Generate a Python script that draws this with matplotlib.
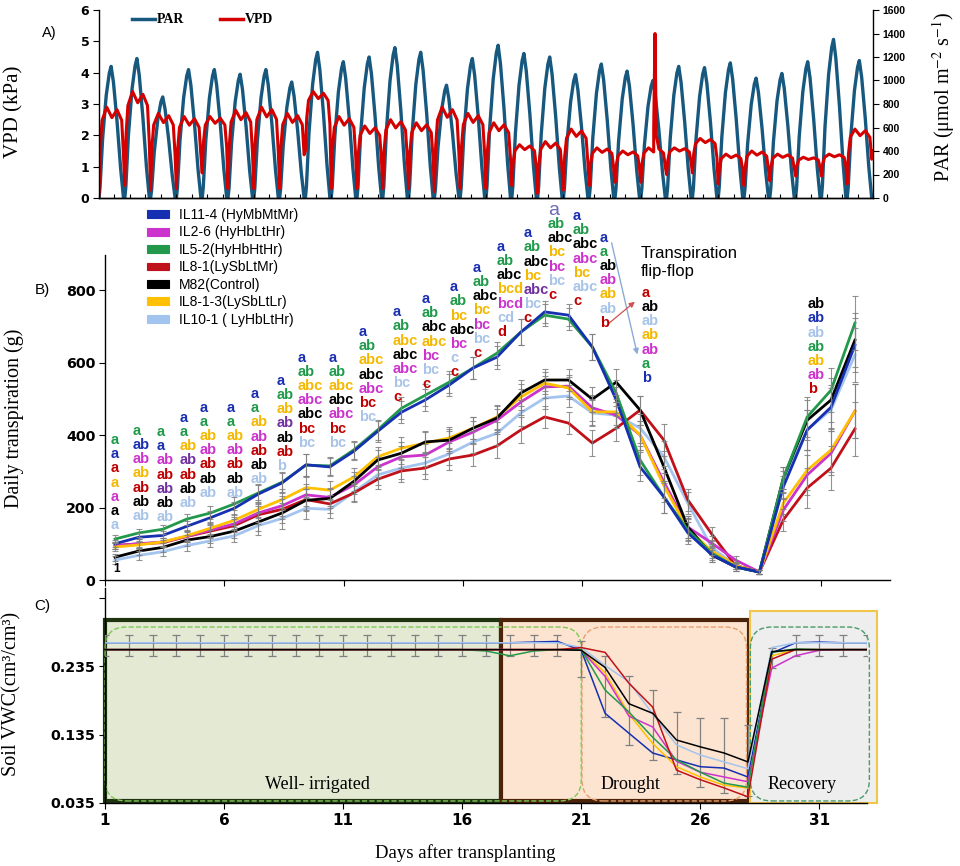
import numpy as np
import matplotlib
matplotlib.use('Agg')
import matplotlib.pyplot as plt
from matplotlib.patches import Rectangle, FancyBboxPatch, Patch
from matplotlib.lines import Line2D

# ------------------------------------------------------------
# fonts / colours
# ------------------------------------------------------------
SERIF = 'Liberation Serif'
SANS = 'Liberation Sans'
TICK_FONT = 'DejaVu Sans'

plt.rcParams.update({
    'font.family': SANS,
    'mathtext.fontset': 'stix',
    'axes.linewidth': 1.0,
})

PAR_COLOR = '#17587f'
VPD_COLOR = '#d40000'
ERR_COLOR = '#808080'

LINE_COLORS = {
    'IL11-4': '#1530b0',
    'IL2-6': '#cc33cc',
    'IL5-2': '#22994a',
    'IL8-1': '#c0101a',
    'M82': '#000000',
    'IL8-1-3': '#ffc000',
    'IL10-1': '#a3c4ee',
}
LETTER_COLORS = {
    'b': '#1a2fb0', 'g': '#1f9a4a', 'r': '#c00000', 'y': '#f5b800',
    'm': '#cc33cc', 'k': '#000000', 'l': '#a8c4e8', 'p': '#7030a0',
    'A': '#6b6bb8',
}

# ------------------------------------------------------------
# panel A : PAR and VPD, 30 days
# ------------------------------------------------------------
A_DAYS = list(range(30))
PAR_PEAK = [1120, 1187, 860, 1093, 1093, 1053, 1093, 987, 1240, 1160,
            1200, 1280, 1240, 960, 1187, 1300, 1230, 1200, 1050, 1140,
            1080, 1000, 1120, 1110, 1150, 1020, 1060, 1160, 1350, 1170]
PAR_FRAC = [0.0, 0.04, 0.14, 0.28, 0.40, 0.47, 0.56, 0.70, 0.84, 0.95]
PAR_REL = [0.0, 0.08, 0.45, 0.78, 0.95, 1.00, 0.88, 0.58, 0.22, 0.0]

VPD_NIGHT = [0.1, 0.4, 0.25, 0.3, 0.8, 0.3, 0.3, 0.3, 1.5, 0.3,
             0.3, 0.3, 0.3, 0.2, 0.3, 0.3, 0.4, 0.15, 0.25, 0.4,
             0.5, 0.5, 0.75, 0.8, 0.45, 0.4, 0.55, 0.7, 0.7, 0.45]
VPD_DAY = [2.9, 3.4, 2.7, 2.6, 2.6, 2.8, 2.9, 2.7, 3.4, 2.6,
           2.3, 2.5, 2.4, 2.9, 2.7, 2.4, 1.7, 1.8, 2.2, 1.6,
           1.5, 1.6, 1.6, 1.9, 1.4, 1.5, 1.4, 1.3, 1.4, 2.2]
VPD_FRAC = [0.0, 0.05, 0.12, 0.30, 0.50, 0.70, 0.88, 0.95]
VPD_REL = [0.0, 0.55, 0.85, 1.00, 0.88, 0.97, 0.85, 0.45]
VPD_END = 1.5
VPD_SPIKE_T = [21.50, 21.55, 21.60]
VPD_SPIKE_V = [2.2, 5.25, 2.0]

# ------------------------------------------------------------
# panel B : daily transpiration (g)
# ------------------------------------------------------------
TRANSP_DAY = list(range(1, 33))
TRANSP = {
    'IL10-1': [55, 68, 78, 95, 108, 122, 150, 170, 198, 195, 242, 290, 309, 323, 348, 381,
               405, 461, 502, 508, 461, 455, 419, 340, 212, 90, 40, 22, 270, 414, 470, 621],
    'IL8-1': [95, 100, 103, 120, 135, 150, 180, 195, 222, 210, 240, 278, 301, 309, 334, 345,
              370, 414, 450, 433, 378, 419, 469, 386, 221, 127, 40, 22, 166, 254, 309, 417],
    'IL2-6': [95, 100, 105, 120, 138, 155, 185, 205, 235, 228, 262, 312, 340, 345, 381, 408,
              441, 491, 533, 535, 475, 455, 400, 270, 146, 102, 55, 22, 193, 290, 350, 466],
    'IL8-1-3': [91, 97, 105, 122, 143, 165, 195, 222, 255, 248, 284, 340, 364, 378, 392, 419,
                450, 505, 543, 530, 464, 464, 400, 260, 140, 80, 40, 22, 212, 303, 359, 466],
    'M82': [63, 80, 90, 110, 120, 135, 160, 185, 220, 225, 272, 331, 350, 381, 386, 419,
            447, 516, 552, 552, 499, 546, 469, 312, 146, 69, 36, 22, 281, 441, 497, 662],
    'IL5-2': [113, 130, 140, 168, 185, 210, 240, 270, 317, 315, 359, 414, 474, 510, 546, 585,
              626, 684, 731, 720, 643, 516, 331, 229, 138, 74, 36, 22, 281, 450, 524, 709],
    'IL11-4': [100, 118, 123, 148, 172, 198, 237, 268, 318, 312, 355, 410, 463, 497, 538, 585,
               615, 684, 740, 731, 643, 497, 312, 229, 130, 70, 36, 22, 257, 414, 477, 648],
}
TRANSP_SE = [10, 12, 12, 15, 18, 18, 25, 28, 30, 25, 25, 28, 30, 30, 30, 30,
             32, 35, 30, 30, 35, 35, 40, 45, 30, 20, 10, 5, 30, 55, 60, 75]

LEGEND_ORDER = ['IL11-4', 'IL2-6', 'IL5-2', 'IL8-1', 'M82', 'IL8-1-3', 'IL10-1']
LEGEND_LABELS = ['IL11-4 (HyMbMtMr)', 'IL2-6 (HyHbLtHr)', 'IL5-2(HyHbHtHr)',
                 'IL8-1(LySbLtMr)', 'M82(Control)', 'IL8-1-3(LySbLtLr)',
                 'IL10-1 ( LyHbLtHr)']

# significance letters: column left edge (day), top row value (g), entries
LETTER_X = [1.25, 2.17, 3.18, 4.14, 4.98, 6.11, 7.12, 8.21, 9.09, 10.38, 11.64,
            13.07, 14.28, 15.45, 16.42, 17.42, 18.55, 19.56, 20.61, 21.74, 23.50, 30.45]
LETTER_TOP = [386, 411, 408, 447, 475, 475, 513, 549, 613, 613, 684,
              739, 775, 808, 861, 919, 957, 1021, 1004, 944, 792, 761]
LETTERS = [
    'a:g a:b a:r a:y a:m a:k a:l',
    'a:g ab:b ab:m ab:y ab:r ab:k ab:l',
    'a:g a:b ab:m ab:r ab:p ab:k ab:l',
    'a:b a:g ab:y ab:p ab:r ab:k ab:l',
    'a:b a:g ab:y ab:m ab:r ab:k ab:l',
    'a:b a:g ab:y ab:m ab:r ab:k ab:l',
    'a:b a:g ab:y ab:m ab:r ab:k ab:l',
    'a:b ab:g ab:y ab:p ab:k ab:r b:l',
    'a:b ab:g abc:y abc:m abc:k bc:r bc:l',
    'a:b ab:g abc:y abc:k abc:m bc:r bc:l',
    'a:b ab:g abc:y abc:k abc:m bc:r bc:l',
    'a:b ab:g abc:y abc:k abc:m bc:l c:r',
    'a:b ab:g abc:k abc:y bc:m bc:l c:r',
    'a:b ab:g bc:y abc:k bc:m c:l c:r',
    'a:b ab:g abc:k bc:y bc:m bc:l c:r',
    'a:b ab:g abc:k bcd:y bcd:m cd:l d:r',
    'a:b ab:g abc:k bc:y abc:p bc:l c:r',
    'a:A ab:g abc:k bc:y bc:m bc:l c:r',
    'a:b ab:g abc:k abc:m bc:y abc:l c:r',
    'a:b a:g ab:k ab:m ab:y ab:l b:r',
    'a:r ab:k ab:l ab:y ab:m a:g b:b',
    'ab:k ab:b ab:l ab:g ab:y ab:m b:r',
]
LETTER_STEP = 39

# ------------------------------------------------------------
# panel C : soil VWC (cm3/cm3), days 1-33
# ------------------------------------------------------------
VWC_DAY = list(range(1, 34))
VWC = {
    'IL11-4': [0.269, 0.269, 0.269, 0.269, 0.269, 0.269, 0.269, 0.269, 0.269, 0.269, 0.269,
               0.269, 0.269, 0.269, 0.269, 0.269, 0.269, 0.269, 0.270, 0.271, 0.258, 0.166,
               0.137, 0.108, 0.098, 0.088, 0.086, 0.073, 0.254, 0.269, 0.270, 0.269, 0.269],
    'IL10-1': [0.269, 0.269, 0.269, 0.269, 0.269, 0.269, 0.269, 0.269, 0.269, 0.269, 0.269,
               0.269, 0.269, 0.269, 0.269, 0.269, 0.269, 0.269, 0.269, 0.269, 0.262, 0.236,
               0.212, 0.165, 0.120, 0.105, 0.095, 0.085, 0.262, 0.269, 0.269, 0.269, 0.269],
    'IL8-1-3': [0.259, 0.259, 0.259, 0.259, 0.259, 0.259, 0.259, 0.259, 0.259, 0.259, 0.259,
                0.259, 0.259, 0.259, 0.259, 0.259, 0.259, 0.259, 0.259, 0.259, 0.259, 0.225,
                0.165, 0.122, 0.088, 0.073, 0.061, 0.057, 0.250, 0.259, 0.259, 0.259, 0.259],
    'IL2-6': [0.259, 0.259, 0.259, 0.259, 0.259, 0.259, 0.259, 0.259, 0.259, 0.259, 0.259,
              0.259, 0.259, 0.259, 0.259, 0.259, 0.259, 0.259, 0.259, 0.259, 0.258, 0.220,
              0.162, 0.146, 0.096, 0.080, 0.073, 0.066, 0.232, 0.250, 0.258, 0.259, 0.259],
    'IL5-2': [0.259, 0.259, 0.259, 0.259, 0.259, 0.259, 0.259, 0.259, 0.259, 0.259, 0.259,
              0.259, 0.259, 0.259, 0.259, 0.259, 0.257, 0.250, 0.257, 0.259, 0.259, 0.200,
              0.168, 0.131, 0.098, 0.080, 0.064, 0.058, 0.255, 0.260, 0.259, 0.259, 0.259],
    'IL8-1': [0.259, 0.259, 0.259, 0.259, 0.259, 0.259, 0.259, 0.259, 0.259, 0.259, 0.259,
              0.259, 0.259, 0.259, 0.259, 0.259, 0.259, 0.259, 0.259, 0.259, 0.262, 0.255,
              0.210, 0.175, 0.083, 0.069, 0.057, 0.044, 0.245, 0.259, 0.259, 0.259, 0.259],
    'M82': [0.259, 0.259, 0.259, 0.259, 0.259, 0.259, 0.259, 0.259, 0.259, 0.259, 0.259,
            0.259, 0.259, 0.259, 0.259, 0.259, 0.259, 0.259, 0.259, 0.259, 0.258, 0.233,
            0.180, 0.166, 0.127, 0.117, 0.108, 0.095, 0.256, 0.259, 0.259, 0.259, 0.259],
}
VWC_ERR_MID = [0.265, 0.265, 0.265, 0.265, 0.265, 0.265, 0.265, 0.265, 0.265, 0.265, 0.265,
               0.265, 0.265, 0.265, 0.265, 0.265, 0.265, 0.265, 0.265, 0.265, 0.245, 0.205,
               0.170, 0.149, 0.123, 0.109, 0.104, 0.097, 0.247, 0.265, 0.265, 0.265, 0.265]
VWC_ERR = [0.015, 0.015, 0.015, 0.015, 0.015, 0.015, 0.015, 0.015, 0.015, 0.015, 0.015,
           0.015, 0.015, 0.015, 0.015, 0.015, 0.015, 0.015, 0.015, 0.015, 0.026, 0.044,
           0.050, 0.051, 0.045, 0.050, 0.055, 0.052, 0.015, 0.015, 0.015, 0.015, 0.015]

PHASE_NAMES = ['Well- irrigated', 'Drought', 'Recovery']
PHASE_START = [1.0, 17.63, 28.10]
PHASE_END = [17.63, 28.06, 33.43]
PHASE_LABEL_X = [9.92, 23.08, 30.28]


# ------------------------------------------------------------
# helpers
# ------------------------------------------------------------
W, H = 960, 866


def px_axes(fig, x0, y0, x1, y1):
    """axes from pixel box (top-left origin)."""
    return fig.add_axes([x0 / W, 1 - y1 / H, (x1 - x0) / W, (y1 - y0) / H])


def style_ticklabels(labels, family, size, weight='bold'):
    for lbl in labels:
        lbl.set_fontfamily(family)
        lbl.set_fontsize(size)
        lbl.set_fontweight(weight)


fig = plt.figure(figsize=(W / 100, H / 100), dpi=100)

# ============================================================
# A) PAR / VPD
# ============================================================
axA = px_axes(fig, 99, 10, 873, 198)
axP = axA.twinx()
axA.set_zorder(axP.get_zorder() + 1)
axA.patch.set_visible(False)

par_t, par_v = [], []
for d, peak in zip(A_DAYS, PAR_PEAK):
    for f, r in zip(PAR_FRAC, PAR_REL):
        par_t.append(d + f)
        par_v.append(peak * r)
par_t.append(30)
par_v.append(0)
axP.plot(par_t, par_v, color=PAR_COLOR, lw=2.4)

vpd_t, vpd_v = [], []
for d, lo, hi in zip(A_DAYS, VPD_NIGHT, VPD_DAY):
    for f, r in zip(VPD_FRAC, VPD_REL):
        vpd_t.append(d + f)
        vpd_v.append(lo + r * (hi - lo))
vpd_t.append(30)
vpd_v.append(VPD_END)
vpd_t += VPD_SPIKE_T
vpd_v += VPD_SPIKE_V
order = np.argsort(vpd_t)
axA.plot(np.array(vpd_t)[order], np.array(vpd_v)[order], color=VPD_COLOR, lw=2.2)

axA.set_xlim(0, 30)
axA.set_ylim(0, 6)
axP.set_ylim(0, 1600)
axA.set_yticks(range(0, 7))
axP.set_yticks(range(0, 1601, 200))
axA.set_xticks(np.arange(0, 30.01, 0.6))
axA.tick_params(axis='x', direction='in', length=3, labelbottom=False)
axA.tick_params(axis='y', length=4, pad=3)
axP.tick_params(axis='y', length=4, pad=3)
style_ticklabels(axA.get_yticklabels(), TICK_FONT, 9)
style_ticklabels(axP.get_yticklabels(), SANS, 7.5)
for a in (axA, axP):
    a.spines['top'].set_visible(False)
axA.spines['right'].set_visible(False)
axP.spines['left'].set_visible(False)

handles = [Line2D([], [], color=PAR_COLOR, lw=2.5), Line2D([], [], color=VPD_COLOR, lw=2.5)]
axA.legend(handles, ['PAR', 'VPD'], loc='center left', bbox_to_anchor=(0.043, 0.947),
           ncol=2, frameon=False, handlelength=1.65, handletextpad=0.1,
           columnspacing=2.6, borderaxespad=0, borderpad=0,
           prop=dict(family=SERIF, weight='bold', size=10))

fig.text(49 / W, 1 - 33 / H, 'A)', fontsize=10.5, ha='center', va='center')
fig.text(14 / W, 1 - 112 / H, 'VPD (kPa)', family=SERIF, fontsize=15,
         rotation=90, ha='center', va='center')
fig.text(944 / W, 1 - 97 / H, r'PAR ($\mathregular{\mu}$mol m$^{-2}$ s$^{-1}$)',
         family=SERIF, fontsize=14.5, rotation=90, ha='center', va='center')

# ============================================================
# B) daily transpiration
# ============================================================
axB = px_axes(fig, 105, 255, 890, 580)
xb = np.array(TRANSP_DAY) + 0.42
for name, vals in TRANSP.items():
    axB.plot(xb, vals, color=LINE_COLORS[name], lw=2.0, zorder=2)
    axB.errorbar(xb, vals, yerr=TRANSP_SE, fmt='none', ecolor=ERR_COLOR,
                 elinewidth=0.8, capsize=2.5, capthick=0.8, alpha=0.85, zorder=3)

axB.set_xlim(1, 33.89)
axB.set_ylim(0, 897)
axB.set_yticks(range(0, 801, 200))
axB.set_xticks(range(1, 32, 5))
axB.tick_params(axis='x', labelbottom=False, length=4)
axB.tick_params(axis='y', length=4, pad=3)
style_ticklabels(axB.get_yticklabels(), TICK_FONT, 10.3)
axB.spines['top'].set_visible(False)
axB.spines['right'].set_visible(False)

leg_handles = [Patch(facecolor=LINE_COLORS[n], edgecolor=LINE_COLORS[n], lw=0.8)
               for n in LEGEND_ORDER]
axB.legend(leg_handles, LEGEND_LABELS, loc='upper left',
           bbox_to_anchor=((147 - 105) / 785, (580 - 208) / 325),
           frameon=False, borderaxespad=0, borderpad=0, handlelength=1.55,
           handleheight=0.5, handletextpad=0.75, labelspacing=0.25,
           prop=dict(family=SANS, size=10))

for x0, top, spec in zip(LETTER_X, LETTER_TOP, LETTERS):
    for i, item in enumerate(spec.split()):
        txt, code = item.split(':')
        big = code == 'A'
        axB.text(x0, top - i * LETTER_STEP, txt, color=LETTER_COLORS[code],
                 fontsize=14 if big else 10.5, fontweight='normal' if big else 'bold',
                 ha='left', va='center', clip_on=False, zorder=4)
axB.text(1.5, 30, '1', fontsize=8.5, fontweight='bold', ha='center', va='center')

axB.annotate('', xy=(23.33, 615), xytext=(22.2, 938),
             arrowprops=dict(arrowstyle='-|>', color='#8eaad6', lw=1.0,
                             mutation_scale=8), annotation_clip=False)
axB.annotate('', xy=(23.29, 773), xytext=(22.03, 704),
             arrowprops=dict(arrowstyle='-|>', color='#d05050', lw=0.9,
                             mutation_scale=8), annotation_clip=False)
axB.text(23.45, 876, 'Transpiration\nflip-flop', fontsize=12, ha='left',
         va='center', linespacing=1.25, clip_on=False)

fig.text(42 / W, 1 - 290 / H, 'B)', fontsize=11, ha='center', va='center')
fig.text(14 / W, 1 - 418 / H, 'Daily transpiration (g)', family=SERIF, fontsize=14.5,
         rotation=90, ha='center', va='center')

# ============================================================
# C) soil VWC
# ============================================================
axC = px_axes(fig, 105, 588, 867, 803)
axC.set_xlim(1, 33)
axC.set_ylim(0.035, 0.349)

phase_face = ['#e4e9d4', '#fde4d1', '#eeeeee']
phase_edge = ['#1f3310', '#4b2308', '#f2c649']
phase_lw = [3.0, 3.0, 1.5]
phase_y = [(0.038, 0.302), (0.038, 0.302), (0.035, 0.315)]
for x0, x1, fc, ec, lw, (y0, y1) in zip(PHASE_START, PHASE_END, phase_face,
                                        phase_edge, phase_lw, phase_y):
    axC.add_patch(Rectangle((x0, y0), x1 - x0, y1 - y0, facecolor=fc, edgecolor=ec,
                            lw=lw, clip_on=False, zorder=1))

dash_x = [(1.0, 21.0), (21.03, 27.94), (28.10, 33.10)]
dash_c = ['#7dc855', '#e8a070', '#4a9a6a']
for (x0, x1), c in zip(dash_x, dash_c):
    axC.add_patch(FancyBboxPatch((x0, 0.038), x1 - x0, 0.292 - 0.038,
                                 boxstyle='round,pad=0,rounding_size=0.9',
                                 mutation_aspect=0.0348, facecolor='none',
                                 edgecolor=c, lw=1.0, ls='--', clip_on=False, zorder=2))

for name, x_txt in zip(PHASE_NAMES, PHASE_LABEL_X):
    axC.text(x_txt, 0.0627, name, family=SERIF, fontsize=13, ha='center',
             va='center', zorder=6)

axC.errorbar(VWC_DAY, VWC_ERR_MID, yerr=VWC_ERR, fmt='none', ecolor=ERR_COLOR,
             elinewidth=0.9, capsize=3, capthick=0.9, zorder=3)
for name, vals in VWC.items():
    axC.plot(VWC_DAY, vals, color=LINE_COLORS[name], lw=1.1, zorder=4)

axC.set_yticks([0.035, 0.135, 0.235, 0.335])
axC.set_yticklabels(['0.035', '0.135', '0.235', ''])
axC.set_xticks(range(1, 32, 5))
axC.tick_params(axis='both', length=4, pad=3)
style_ticklabels(axC.get_yticklabels(), TICK_FONT, 10.3)
style_ticklabels(axC.get_xticklabels(), TICK_FONT, 11)
axC.spines['top'].set_visible(False)
axC.spines['right'].set_visible(False)

fig.text(42 / W, 1 - 606 / H, 'C)', fontsize=11, ha='center', va='center')
fig.text(12 / W, 1 - 694 / H, 'Soil VWC(cm³/cm³)', family=SERIF, fontsize=14.5,
         rotation=90, ha='center', va='center')
fig.text(465 / W, 1 - 853 / H, 'Days after transplanting', family=SERIF, fontsize=13.5,
         ha='center', va='center')

fig.savefig('out.png', dpi=100)
